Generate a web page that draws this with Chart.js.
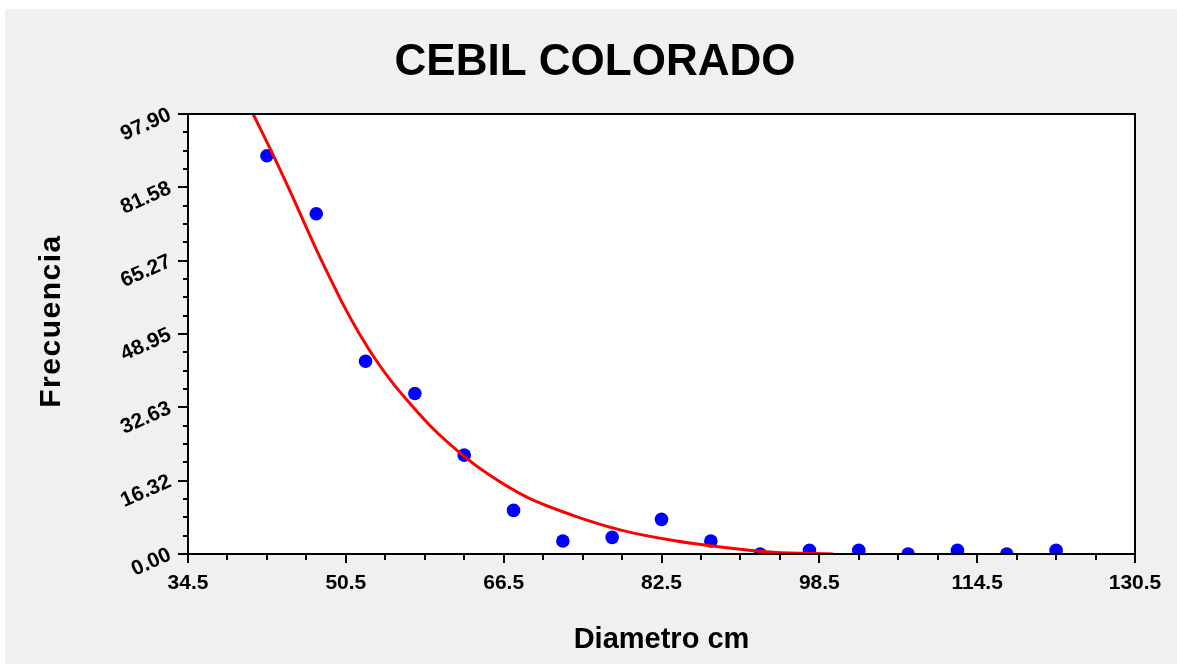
<!DOCTYPE html>
<html>
<head>
<meta charset="utf-8">
<title>CEBIL COLORADO</title>
<script src="https://cdn.jsdelivr.net/npm/chart.js@4.4.0/dist/chart.umd.min.js"></script>
<style>
  html, body { margin: 0; padding: 0; background: #fff; }
  #wrap { position: absolute; left: 5px; top: 9px; width: 1172px; height: 655px; background: #f0f0f0; }
</style>
</head>
<body>
<div id="wrap"><canvas id="chart"></canvas></div>
<script>
// observed frequencies per diameter class
const diam = [42.5, 47.5, 52.5, 57.5, 62.5, 67.5, 72.5, 77.5, 82.5, 87.5, 92.5, 97.5, 102.5, 107.5, 112.5, 117.5, 122.5];
const freq = [88.6, 75.7, 42.9, 35.7, 22.0, 9.7, 2.9, 3.7, 7.7, 2.9, 0.0, 0.8, 0.8, 0.0, 0.8, 0.0, 0.8];

// fitted curve
const fitX = [41.1, 42.8, 45.1, 46.3, 47.5, 48.9, 50.3, 51.9, 53.6, 55.3, 57.0, 59.2, 62.4, 65.1, 68.8, 73.5, 78.6, 83.7, 88.7, 93.8, 99.9];
const fitY = [97.9, 90.3, 79.5, 73.6, 67.8, 61.4, 55.2, 48.9, 43.0, 37.9, 33.5, 28.2, 21.9, 17.5, 12.7, 8.6, 5.2, 3.0, 1.5, 0.4, 0.0];

const xTickLabels = ['34.5', '50.5', '66.5', '82.5', '98.5', '114.5', '130.5'];
const yTickLabels = ['0.00', '16.32', '32.63', '48.95', '65.27', '81.58', '97.90'];

const FONT = "'Liberation Sans', Arial, sans-serif";

// majors from the labels, 3 minor ticks between each pair
function withMinors(labels) {
  const major = labels.map(Number);
  let out = [];
  for (let i = 0; i < major.length; i++) {
    out.push({ value: major[i], major: true });
    if (i < major.length - 1) {
      for (let k = 1; k < 4; k++) out.push({ value: major[i] + (major[i + 1] - major[i]) * k / 4, major: false });
    }
  }
  return out;
}
function labelFor(labels, v) {
  let l = labels.find(s => Math.abs(Number(s) - v) < 1e-6);
  return l === undefined ? '' : l;
}

const frame = {
  id: 'frame',
  beforeDraw(chart) {
    let { ctx, chartArea: a } = chart;
    ctx.save();
    ctx.fillStyle = '#ffffff';
    ctx.fillRect(a.left, a.top, a.width, a.height);
    ctx.restore();
  },
  afterDraw(chart) {
    let { ctx, chartArea: a, scales } = chart;
    ctx.save();
    ctx.strokeStyle = '#000';
    ctx.lineWidth = 2;
    ctx.strokeRect(a.left, a.top, a.width, a.height);
    ctx.beginPath();
    for (let t of scales.x.ticks) {
      let px = Math.round(scales.x.getPixelForValue(t.value));
      ctx.moveTo(px, a.bottom);
      ctx.lineTo(px, a.bottom + (t.major ? 9 : 6));
    }
    for (let t of scales.y.ticks) {
      let py = Math.round(scales.y.getPixelForValue(t.value));
      ctx.moveTo(a.left, py);
      ctx.lineTo(a.left - (t.major ? 10 : 5), py);
    }
    ctx.stroke();

    // y axis title
    ctx.translate(47, (a.top + a.bottom) / 2 - 13);
    ctx.rotate(-Math.PI / 2);
    ctx.font = 'bold 30px ' + FONT;
    ctx.letterSpacing = '1.5px';
    ctx.fillStyle = '#000';
    ctx.textAlign = 'center';
    ctx.textBaseline = 'middle';
    ctx.fillText('Frecuencia', 0, 0);
    ctx.restore();
  }
};

let graph = new Chart(document.getElementById('chart'), {
  type: 'scatter',
  data: {
    datasets: [
      {
        label: 'Ajuste',
        data: fitX.map((v, i) => ({ x: v, y: fitY[i] })),
        showLine: true,
        borderColor: '#ff0000',
        borderWidth: 3,
        pointRadius: 0,
        cubicInterpolationMode: 'monotone'
      },
      {
        label: 'Frecuencia',
        data: diam.map((v, i) => ({ x: v, y: freq[i] })),
        backgroundColor: '#0000ff',
        borderWidth: 0,
        pointRadius: 6.8,
        pointHoverRadius: 6.8
      }
    ]
  },
  options: {
    responsive: true,
    maintainAspectRatio: false,
    animation: false,
    layout: { padding: { left: 50, right: 42, top: 0, bottom: 0 } },
    plugins: {
      legend: { display: false },
      tooltip: { enabled: false },
      title: {
        display: true,
        text: 'CEBIL COLORADO',
        color: '#000',
        font: { family: FONT, size: 44, weight: 'bold', lineHeight: 1.2 },
        padding: { top: 27, bottom: 25.2 }
      }
    },
    scales: {
      x: {
        type: 'linear',
        min: 34.5,
        max: 130.5,
        afterBuildTicks: s => { s.ticks = withMinors(xTickLabels); },
        afterFit: s => { s.height = 110; },
        grid: { display: false, drawTicks: true, tickLength: 9 },
        border: { display: false },
        ticks: {
          autoSkip: false,
          maxRotation: 0,
          padding: 8,
          color: '#000',
          font: { family: FONT, size: 21, weight: 'bold' },
          callback: v => labelFor(xTickLabels, v)
        },
        title: {
          display: true,
          text: 'Diametro cm',
          color: '#000',
          font: { family: FONT, size: 29, weight: 'bold', lineHeight: 1.2 },
          padding: { top: 0, bottom: 7 }
        }
      },
      y: {
        type: 'linear',
        min: 0,
        max: 97.9,
        afterBuildTicks: s => { s.ticks = withMinors(yTickLabels); },
        afterFit: s => { s.width = 133; },
        grid: { display: false, drawTicks: true, tickLength: 10 },
        border: { display: false },
        ticks: {
          autoSkip: false,
          minRotation: 24,
          maxRotation: 24,
          padding: 8,
          color: '#000',
          font: { family: FONT, size: 21, weight: 'bold' },
          callback: v => labelFor(yTickLabels, v)
        }
      }
    }
  },
  plugins: [frame]
});
</script>
</body>
</html>
